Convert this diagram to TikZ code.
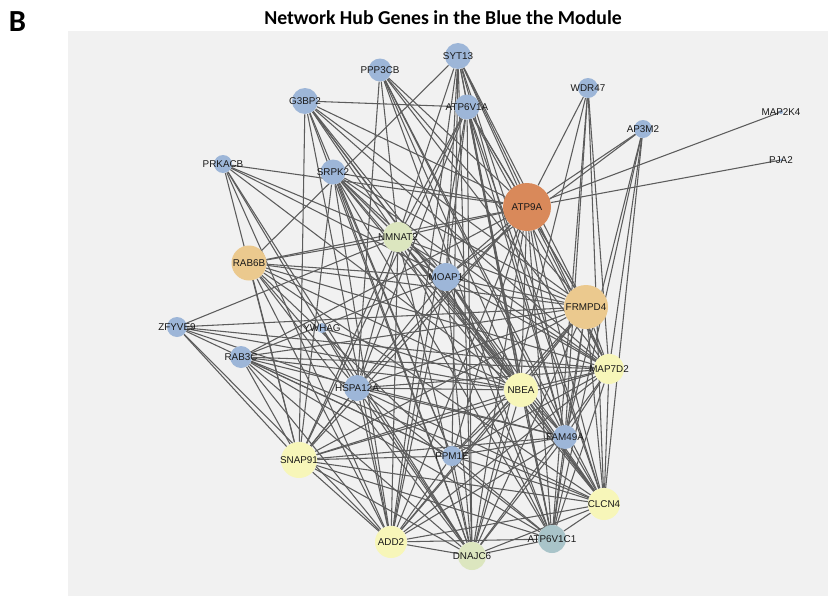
\documentclass[tikz,border=0pt]{standalone}
\usepackage{fontspec}
\setmainfont{Liberation Sans}
\newfontfamily\titlefont{Carlito}
\usepackage{xcolor}
\usepackage{tikz}

\definecolor{panelgrey}{HTML}{F1F1F1}
\definecolor{geneblue}{HTML}{9DB6D8}
\definecolor{geneorange}{HTML}{D9895A}
\definecolor{genetan}{HTML}{EBC98E}
\definecolor{geneyellow}{HTML}{F7F6B9}
\definecolor{genegreen}{HTML}{DCE6BF}
\definecolor{geneteal}{HTML}{A9C4C9}

\pgfdeclarelayer{panel}
\pgfdeclarelayer{edges}
\pgfsetlayers{panel,edges,main}

\begin{document}
\begin{tikzpicture}[
      x=0.75pt, y=-0.75pt,
      gene/.style={circle, inner sep=0pt, minimum size=0.75pt*#1},
      lab/.style={font=\fontsize{7.4}{8}\selectfont, inner sep=0pt, text=black!90},
      edge/.style={draw=black!64, line width=0.8pt}
    ]
    \useasboundingbox (0,0) rectangle (828,596);
    \begin{pgfonlayer}{panel}
      \fill[panelgrey] (68,31) rectangle (828,596);
    \end{pgfonlayer}

    \node[font=\titlefont\bfseries\fontsize{23}{26}\selectfont, inner sep=0pt] (panelB) at (17.5,22) {B};
    \node[font=\titlefont\bfseries\fontsize{14.8}{17}\selectfont, inner sep=0pt, anchor=base] (title) at (443,24) {Network Hub Genes in the Blue the Module};

    % genes
    \node[gene=26, fill=geneblue, label={[lab]center:SYT13}] (syt) at (458,56) {};
    \node[gene=23, fill=geneblue, label={[lab]center:PPP3CB}] (ppp) at (380,70) {};
    \node[gene=26, fill=geneblue, label={[lab]center:G3BP2}] (gbp) at (305,101) {};
    \node[gene=25, fill=geneblue, label={[lab]center:ATP6V1A}] (atpa) at (467,107) {};
    \node[gene=20, fill=geneblue, label={[lab]center:WDR47}] (wdr) at (588,88) {};
    \node[gene=4, fill=geneblue, label={[lab]center:MAP2K4}] (mapk) at (781,112) {};
    \node[gene=18, fill=geneblue, label={[lab]center:AP3M2}] (apm) at (643,129) {};
    \node[gene=3, fill=geneblue, label={[lab]center:PJA2}] (pja) at (781,160) {};
    \node[gene=18, fill=geneblue, label={[lab]center:PRKACB}] (prk) at (223,164) {};
    \node[gene=25, fill=geneblue, label={[lab]center:SRPK2}] (srpk) at (333,172) {};
    \node[gene=48, fill=geneorange, label={[lab]center:ATP9A}] (atp9) at (527,207) {};
    \node[gene=30, fill=genegreen, label={[lab]center:NMNAT2}] (nmn) at (398,237) {};
    \node[gene=35, fill=genetan, label={[lab]center:RAB6B}] (rab6) at (249,263) {};
    \node[gene=28, fill=geneblue, label={[lab]center:MOAP1}] (moap) at (446,277) {};
    \node[gene=44, fill=genetan, label={[lab]center:FRMPD4}] (frm) at (586,307) {};
    \node[gene=20, fill=geneblue, label={[lab]center:ZFYVE9}] (zfy) at (177,327) {};
    \node[gene=10, fill=geneblue, label={[lab]center:YWHAG}] (ywh) at (322,328) {};
    \node[gene=22, fill=geneblue, label={[lab]center:RAB3C}] (rab3) at (241,357) {};
    \node[gene=30, fill=geneyellow, label={[lab]center:MAP7D2}] (map7) at (609,369) {};
    \node[gene=26, fill=geneblue, label={[lab]center:HSPA12A}] (hsp) at (357,388) {};
    \node[gene=34, fill=geneyellow, label={[lab]center:NBEA}] (nbea) at (521,390) {};
    \node[gene=24, fill=geneblue, label={[lab]center:FAM49A}] (fam) at (565,437) {};
    \node[gene=20, fill=geneblue, label={[lab]center:PPM1E}] (ppm) at (452,456) {};
    \node[gene=36, fill=geneyellow, label={[lab]center:SNAP91}] (snap) at (299,460) {};
    \node[gene=32, fill=geneyellow, label={[lab]center:CLCN4}] (clcn) at (604,504) {};
    \node[gene=28, fill=geneteal, label={[lab]center:ATP6V1C1}] (atpc) at (552,539) {};
    \node[gene=32, fill=geneyellow, label={[lab]center:ADD2}] (add) at (391,542) {};
    \node[gene=28, fill=genegreen, label={[lab]center:DNAJC6}] (dna) at (472,556) {};

    % co-expression links
    \begin{pgfonlayer}{edges}
      \foreach \g in {rab6,nmn,moap,atp9,frm,nbea,map7,fam,clcn,atpc,dna,add,ppm} \draw[edge] (syt) -- (\g);
      \foreach \g in {hsp,nmn,atp9,frm,nbea,map7,clcn,fam,atpc} \draw[edge] (ppp) -- (\g);
      \foreach \g in {atpa,snap,nmn,moap,atp9,frm,nbea,map7,clcn,ppm,dna,add} \draw[edge] (gbp) -- (\g);
      \foreach \g in {nmn,moap,atp9,frm,nbea,map7,clcn,atpc,fam,dna,add,snap,hsp} \draw[edge] (atpa) -- (\g);
      \foreach \g in {atp9,dna,atpc,fam,clcn,map7} \draw[edge] (wdr) -- (\g);
      \foreach \g in {atp9,moap,map7,clcn,atpc,fam} \draw[edge] (apm) -- (\g);
      \draw[edge] (mapk) -- (atp9);
      \draw[edge] (pja) -- (atp9);
      \foreach \g in {atp9,nmn,moap,nbea,snap,hsp,dna,add} \draw[edge] (prk) -- (\g);
      \foreach \g in {atp9,frm,nmn,nbea,moap,ppm,snap,add,dna,clcn,atpc,map7} \draw[edge] (srpk) -- (\g);
      \foreach \g in {nmn,rab6,moap,frm,nbea,map7,clcn,atpc,fam,dna,add,snap,hsp,ppm,rab3} \draw[edge] (atp9) -- (\g);
      \foreach \g in {rab6,moap,frm,map7,nbea,snap,clcn,add,dna,atpc,fam,zfy,hsp} \draw[edge] (nmn) -- (\g);
      \foreach \g in {frm,moap,snap,add,dna,nbea,map7,clcn,hsp,ppm} \draw[edge] (rab6) -- (\g);
      \foreach \g in {frm,map7,nbea,hsp,snap,ppm,add} \draw[edge] (zfy) -- (\g);
      \foreach \g in {nbea,dna} \draw[edge] (ywh) -- (\g);
      \foreach \g in {snap,frm,map7,nbea,ppm,fam,clcn,atpc,dna,add,moap} \draw[edge] (rab3) -- (\g);
      \foreach \g in {frm,snap,nbea,clcn,add,dna,atpc,fam,map7} \draw[edge] (moap) -- (\g);
      \foreach \g in {nbea,map7,snap,clcn,atpc,add,dna,fam,hsp,ppm} \draw[edge] (frm) -- (\g);
      \foreach \g in {nbea,clcn,atpc,snap,add,dna,hsp,fam,ppm} \draw[edge] (map7) -- (\g);
      \foreach \g in {nbea,clcn,add,dna,atpc,snap,fam} \draw[edge] (hsp) -- (\g);
      \foreach \g in {snap,clcn,atpc,add,dna,fam,ppm} \draw[edge] (nbea) -- (\g);
      \foreach \g in {snap,clcn,atpc,add,dna,ppm} \draw[edge] (fam) -- (\g);
      \foreach \g in {snap,clcn,add,dna,atpc} \draw[edge] (ppm) -- (\g);
      \foreach \g in {clcn,atpc,add,dna} \draw[edge] (snap) -- (\g);
      \foreach \g in {atpc,add,dna} \draw[edge] (clcn) -- (\g);
      \foreach \g in {add,dna} \draw[edge] (atpc) -- (\g);
      \draw[edge] (add) -- (dna);
    \end{pgfonlayer}
  \end{tikzpicture}
\end{document}
